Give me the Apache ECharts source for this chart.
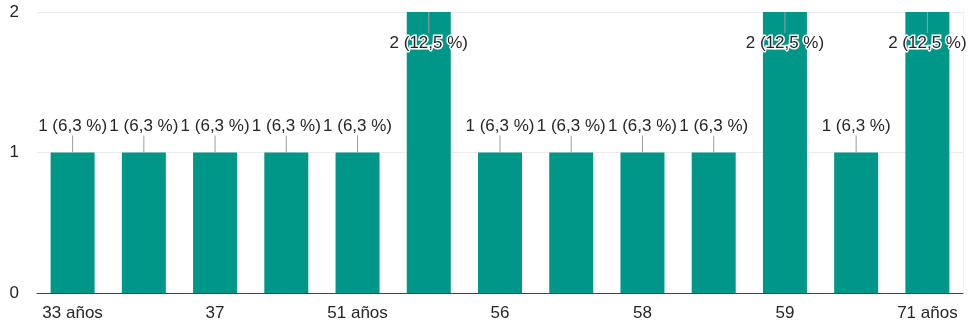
<!DOCTYPE html>
<html>
<head>
<meta charset="utf-8">
<script src="https://cdn.jsdelivr.net/npm/echarts@6/dist/echarts.min.js"></script>
<style>
  html, body { margin: 0; padding: 0; background: #fff; }
  #chart { width: 968px; height: 328px; }
</style>
</head>
<body>
<div id="chart"></div>
<script>
// Ages reported in the survey and how many people gave each answer
const categories = ['33 años', '36', '37', '45', '51 años', '52', '56', '57', '58', '58 años', '59', '60', '71 años'];
const counts = [1, 1, 1, 1, 1, 2, 1, 1, 1, 1, 2, 1, 2];
const yTicks = [0, 1, 2];

const total = counts.reduce((a, b) => a + b, 0);
const labelText = v => v + ' (' + (v / total * 100).toFixed(1).replace('.', ',') + ' %)';
const yMax = yTicks[yTicks.length - 1];

const FAMILY = '"Liberation Sans", Arial, sans-serif';
const FONT = '17px ' + FAMILY;
const TEXT = '#262626';

const chart = echarts.init(document.getElementById('chart'), null, { renderer: 'canvas' });

chart.setOption({
  animation: false,
  grid: { left: 37, right: 5, top: 12, bottom: 35 },
  xAxis: {
    type: 'category',
    data: categories,
    axisTick: { show: false },
    axisLine: { lineStyle: { color: '#444', width: 1 } },
    axisLabel: {
      interval: 1,
      color: TEXT,
      fontSize: 17,
      fontFamily: FAMILY,
      margin: 12
    }
  },
  yAxis: [{
    type: 'value',
    min: yTicks[0],
    max: yMax,
    interval: 1,
    axisLine: { show: false },
    axisTick: { show: false },
    splitLine: { lineStyle: { color: '#ebebeb', width: 1 } },
    axisLabel: {
      color: TEXT,
      fontSize: 17,
      fontFamily: FAMILY,
      margin: 18
    }
  }, {
    type: 'value',
    position: 'right',
    min: yTicks[0],
    max: yMax,
    interval: 1,
    axisLine: { show: true, lineStyle: { color: '#f0f0f0' } },
    axisTick: { show: false },
    axisLabel: { show: false },
    splitLine: { show: false }
  }],
  series: [{
    type: 'bar',
    data: counts,
    barWidth: 44,
    itemStyle: { color: '#009688' },
    z: 2
  }, {
    // value annotations with a short stem toward the bar top
    type: 'custom',
    data: counts.map((v, i) => [i, v]),
    encode: { x: 0, y: 1 },
    clip: false,
    z: 5,
    renderItem: function (params, api) {
      const idx = api.value(0);
      const v = api.value(1);
      const p = api.coord([idx, v]);
      const atTop = v >= yMax;
      const stemEnd = atTop ? p[1] + 21 : p[1] - 17;
      const textY = atTop ? p[1] + 31 : p[1] - 26;
      return {
        type: 'group',
        children: [{
          type: 'line',
          shape: { x1: p[0], y1: p[1], x2: p[0], y2: stemEnd },
          style: { stroke: '#9e9e9e', lineWidth: 1 }
        }, {
          type: 'text',
          style: {
            text: labelText(v),
            x: p[0],
            y: textY,
            align: 'center',
            verticalAlign: 'middle',
            font: FONT,
            fill: TEXT,
            stroke: atTop ? '#fff' : null,
            lineWidth: atTop ? 3 : 0
          }
        }]
      };
    }
  }]
});
</script>
</body>
</html>
